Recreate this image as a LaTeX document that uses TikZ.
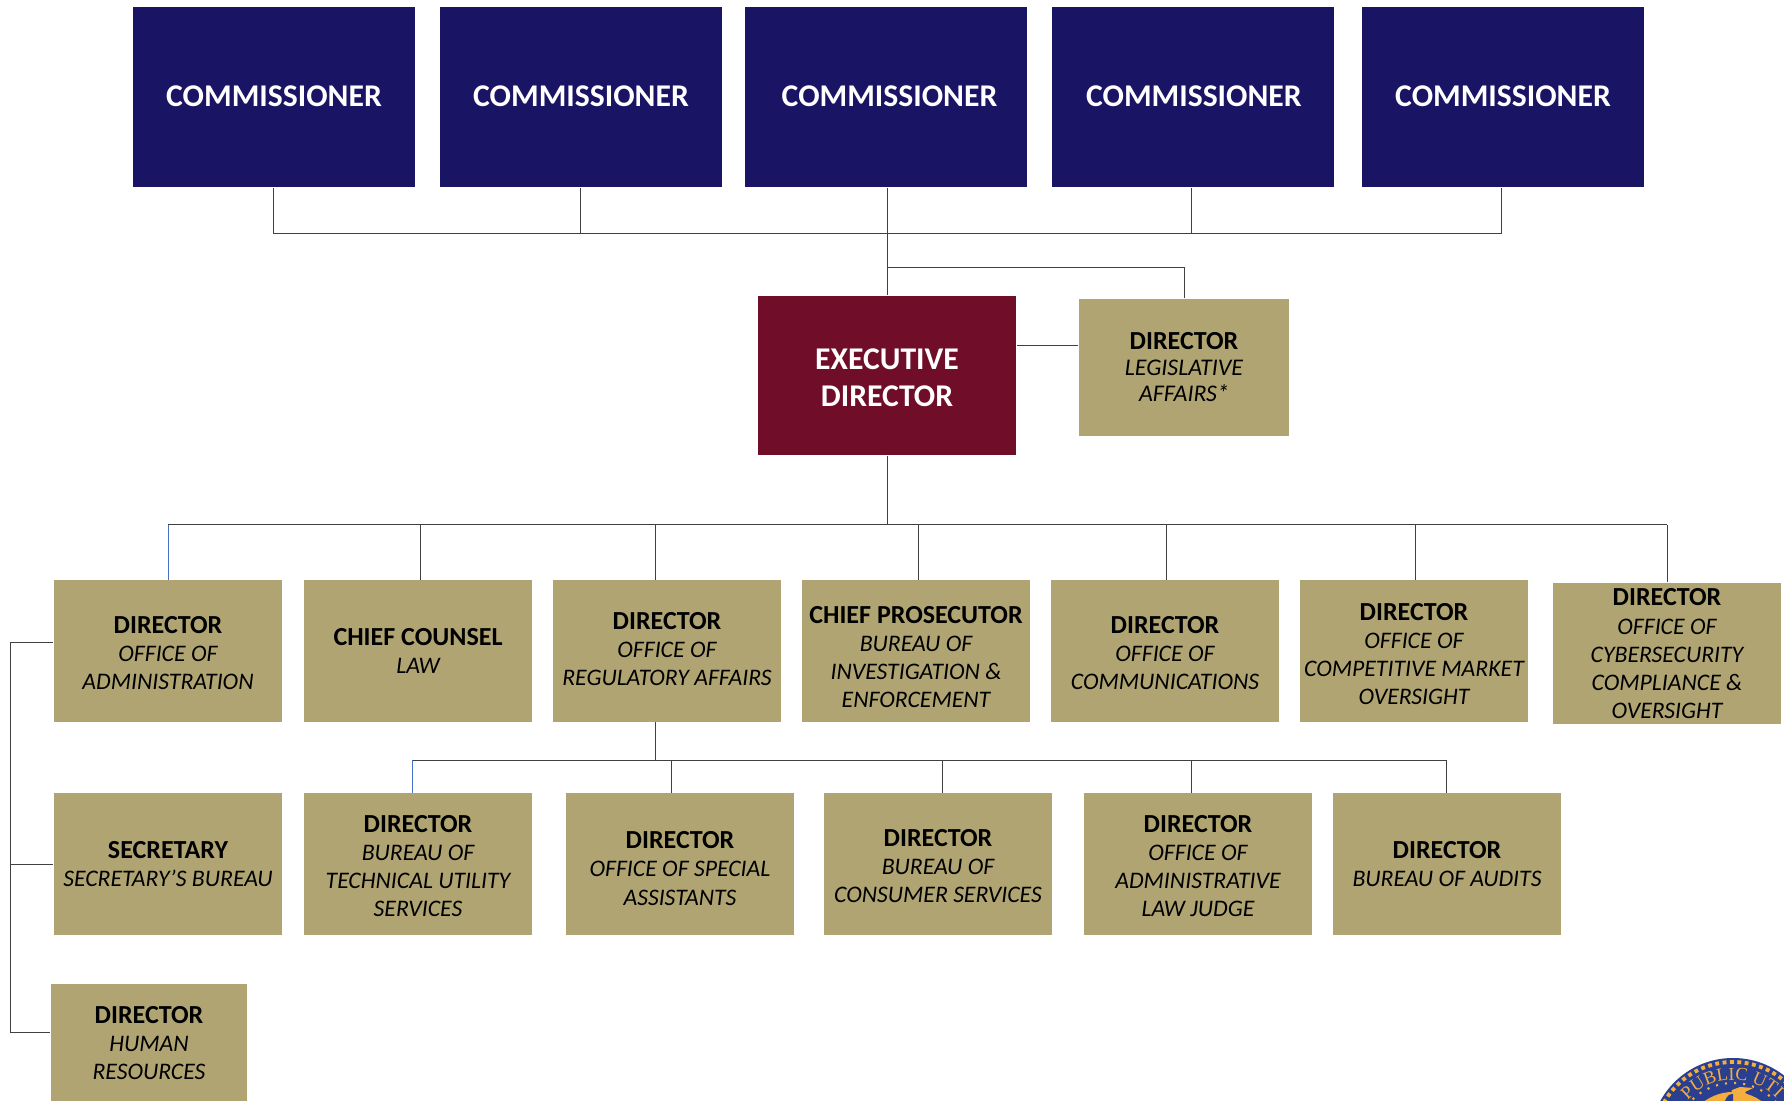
\documentclass[tikz,border=0pt]{standalone}
\usepackage{fontspec}
\setmainfont{Carlito}
\newfontfamily\sealfont{Liberation Serif}
\usetikzlibrary{decorations.text}
\definecolor{navybox}{HTML}{1A1464}
\definecolor{maroonbox}{HTML}{700D29}
\definecolor{goldbox}{HTML}{B0A572}
\definecolor{sealblue}{HTML}{2A3F8F}
\definecolor{sealgold}{HTML}{F4AE3D}
\definecolor{stemblue}{HTML}{4472C4}
% [height of the first line], heading
\newcommand{\Head}[2][6.1pt]{\textbf{\upshape\fontsize{7.4pt}{8pt}\selectfont\rule{0pt}{#1}#2}}
\tikzset{
	board/.style={fill=navybox,text=white,minimum width=2.82cm,minimum height=1.80cm,inner sep=0pt,align=center,
		font=\fontsize{9pt}{10.4pt}\selectfont\bfseries},
	exec/.style={fill=maroonbox,text=white,minimum width=2.58cm,minimum height=1.59cm,inner sep=0pt,align=center,
		font=\fontsize{9pt}{10.4pt}\selectfont\bfseries},
	office/.style={fill=goldbox,text=black,minimum width=2.28cm,minimum height=1.41cm,inner sep=0pt,align=center,
		font=\fontsize{6.75pt}{8pt}\selectfont\itshape},
	conn/.style={draw=black!75,line width=0.28pt},
	connblue/.style={draw=stemblue,line width=0.28pt}
}
\begin{document}
\begin{tikzpicture}[x=0.01cm,y=-0.01cm]
\useasboundingbox (0,0) rectangle (1784,1101);
\foreach \n/\x/\k in {1/274/0pt,2/581/0pt,3/886/2pt,4/1193/0.5pt,5/1503/0pt}
{\node[board] (comm\n) at (\x,97) {\hspace*{\k}\raisebox{0.6pt}{COMMISSIONER}}; }
\node[exec] (execdir) at (887,375.5) {\rule{0pt}{7.2pt}EXECUTIVE\\DIRECTOR};
\node[office,minimum width=2.10cm,minimum height=1.37cm,font=\fontsize{6.8pt}{7.4pt}\selectfont\itshape] (legis) at (1184,367.5)
	{\Head[0pt]{DIRECTOR}\\LEGISLATIVE\\AFFAIRS*};
\node[office] (admin) at (168,651) {\Head{DIRECTOR}\\OFFICE OF\\ADMINISTRATION};
\node[office] (counsel) at (418,651) {\Head[5pt]{CHIEF COUNSEL}\\LAW};
\node[office] (regaff) at (667,651) {\Head[0pt]{DIRECTOR}\\OFFICE OF\\REGULATORY AFFAIRS\rule[-1.3pt]{0pt}{1.3pt}};
\node[office] (prosec) at (916,651) {\Head[8.4pt]{CHIEF PROSECUTOR}\\BUREAU OF\\INVESTIGATION \&\\ENFORCEMENT};
\node[office] (comms) at (1165,651) {\Head{DIRECTOR}\\OFFICE OF\\COMMUNICATIONS};
\node[office] (market) at (1414,651) {\Head[6.6pt]{DIRECTOR}\\OFFICE OF\\COMPETITIVE MARKET\\OVERSIGHT};
\node[office] (cyber) at (1667,653.5) {\Head[5pt]{DIRECTOR}\\OFFICE OF\\CYBERSECURITY\\COMPLIANCE \&\\OVERSIGHT};
\node[office] (secret) at (168,864) {\Head[0pt]{SECRETARY}\\SECRETARY’S BUREAU};
\node[office] (techutil) at (418,864) {\Head{DIRECTOR}\\BUREAU OF\\TECHNICAL UTILITY\\SERVICES};
\node[office] (special) at (680,864) {\Head[7.4pt]{DIRECTOR}\\OFFICE OF SPECIAL\\ASSISTANTS};
\node[office] (consumer) at (938,864) {\Head[6pt]{DIRECTOR}\\BUREAU OF\\CONSUMER SERVICES};
\node[office] (alj) at (1198,864) {\Head{DIRECTOR}\\OFFICE OF\\ADMINISTRATIVE\\LAW JUDGE};
\node[office] (audits) at (1447,864) {\Head[0pt]{DIRECTOR}\\BUREAU OF AUDITS};
\node[office,minimum width=1.96cm,minimum height=1.18cm] (hr) at (149,1043) {\Head[5pt]{DIRECTOR}\\HUMAN\\RESOURCES};
% buses
\coordinate (boardbus) at (0,234);
\coordinate (legisbus) at (0,268);
\coordinate (topbus) at (0,525);
\coordinate (lowbus) at (0,760);
\coordinate (sidebus) at (10,0);
\draw[conn] (comm1.south -| 273,0) |- (boardbus -| 1501,0) -- (comm5.south -| 1501,0);
\foreach \n/\x in {2/580,3/887,4/1191}
{\draw[conn] (comm\n.south -| \x,0) -- (boardbus -| \x,0); }
\draw[conn] (boardbus -| execdir.north) -- (execdir.north);
\draw[conn] (legisbus -| execdir.north) -| (legis.north);
\draw[conn] (execdir.east |- 0,346) -- (legis.west |- 0,346);
\draw[conn] (execdir.south) -- (topbus -| execdir.south);
\draw[conn] (topbus -| admin.north) -- (topbus -| cyber.north);
\draw[connblue] (topbus -| admin.north) -- (admin.north);
\draw[conn] (topbus -| 420,0) -- (counsel.north -| 420,0);
\draw[conn] (topbus -| 655,0) -- (regaff.north -| 655,0);
\draw[conn] (topbus -| 918,0) -- (prosec.north -| 918,0);
\draw[conn] (topbus -| 1166,0) -- (comms.north -| 1166,0);
\draw[conn] (topbus -| 1415,0) -- (market.north -| 1415,0);
\draw[conn] (topbus -| cyber.north) -- (cyber.north);
\draw[conn] (regaff.south -| 655,0) -- (lowbus -| 655,0);
\draw[conn] (lowbus -| 412,0) -- (lowbus -| 1446,0);
\draw[connblue] (lowbus -| 412,0) -- (techutil.north -| 412,0);
\draw[conn] (lowbus -| 671,0) -- (special.north -| 671,0);
\draw[conn] (lowbus -| 942,0) -- (consumer.north -| 942,0);
\draw[conn] (lowbus -| 1191,0) -- (alj.north -| 1191,0);
\draw[conn] (lowbus -| 1446,0) -- (audits.north -| 1446,0);
\draw[conn] (admin.west |- 0,643) -| (sidebus |- 0,1032) -- (hr.west |- 0,1032);
\draw[conn] (sidebus |- secret.west) -- (secret.west);
% seal
\begin{scope}
\clip (1600,1000) rectangle (1784,1101);
\fill[sealblue] (1733,1141) circle (83);
\draw[sealgold,line width=1.1pt,densely dotted] (1733,1141) circle (79);
\draw[sealgold,line width=0.6pt,dotted] (1733,1141) circle (58);
\fill[sealgold] (1733,1141) circle (49);
\fill[sealgold] (1730,1101) -- (1732,1090) -- (1740,1087) -- (1753,1088) -- (1745,1092) -- (1752,1101) -- cycle;
\fill[sealblue] (1725,1101) .. controls (1727,1096) and (1729,1094) .. (1733,1094) -- (1733,1101) -- cycle;
\path[decorate,decoration={text along path,
	text={|\sealfont\fontsize{5.2pt}{5.5pt}\selectfont\color{sealgold}|PUBLIC UTI}}]
	(1733,1141) ++(-138:61) arc[start angle=138,end angle=35,radius=61,y radius=-61];
\end{scope}
\end{tikzpicture}
\end{document}
